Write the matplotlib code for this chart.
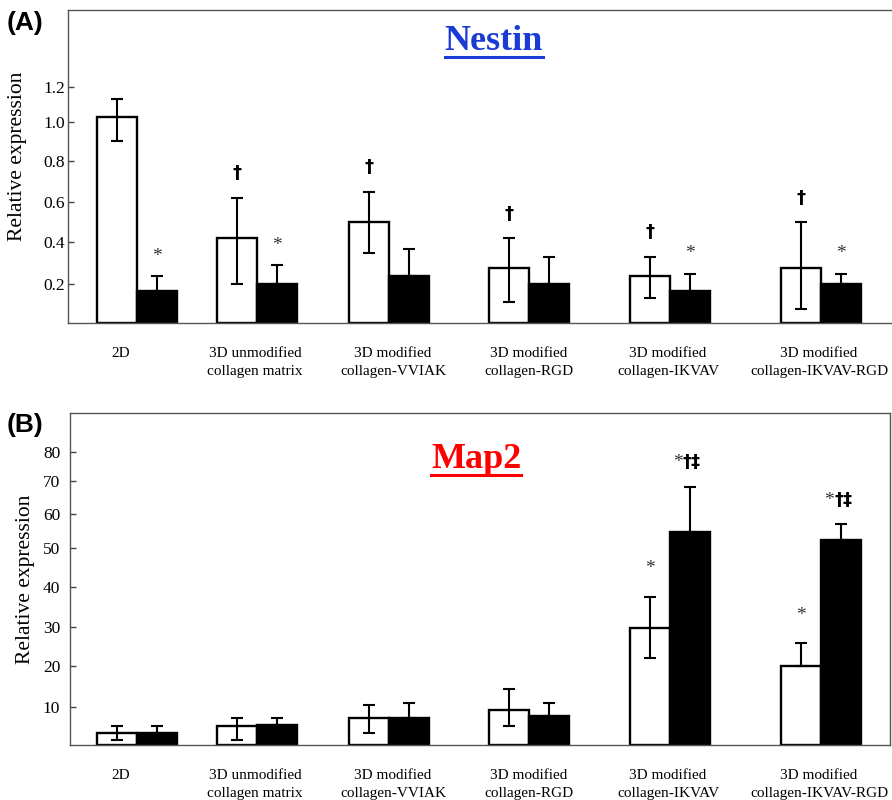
"""
Nestin / Map2 relative expression, two panels (A) and (B)
"""
import numpy as np
import matplotlib
matplotlib.use('Agg')
from matplotlib import pyplot as plt
from matplotlib.lines import Line2D

plt.rcParams['font.family'] = ['Liberation Serif', 'DejaVu Serif']

# Kategorie
labels = ['2D', '3D unmodified\ncollagen matrix', '3D modified\ncollagen-VVIAK',
          '3D modified\ncollagen-RGD', '3D modified\ncollagen-IKVAV',
          '3D modified\ncollagen-IKVAV-RGD']

# (A) Nestin
nes_white = [1.03, 0.42, 0.50, 0.275, 0.238, 0.275]
nes_white_hi = [0.10, 0.20, 0.15, 0.145, 0.092, 0.225]
nes_white_lo = [0.125, 0.22, 0.15, 0.167, 0.11, 0.203]
nes_black = [0.166, 0.20, 0.24, 0.20, 0.166, 0.20]
nes_black_hi = [0.072, 0.09, 0.125, 0.13, 0.084, 0.05]
nes_white_sig = ['', '†', '†', '†', '†', '†']
nes_black_sig = ['*', '*', '', '', '*', '*']

# (B) Map2
map_white = [3.2, 5.0, 7.0, 9.2, 29.7, 20.0]
map_white_hi = [1.8, 2.1, 3.5, 5.2, 7.9, 5.8]
map_white_lo = [1.9, 3.7, 3.8, 4.2, 7.7, 0.0]
map_black = [3.2, 5.2, 7.2, 7.6, 54.6, 52.4]
map_black_hi = [1.8, 1.9, 3.8, 3.4, 13.7, 4.6]
map_white_sig = ['', '', '', '', '*', '*']
map_black_sig = ['', '', '', '', '*†‡', '*†‡']

# osy v originale nejsou uplne linearni -> pozice ticku (px nad nulou)
a_ticks = [0.2, 0.4, 0.6, 0.8, 1.0, 1.2]
a_knot_v = [-1.0, 0, 0.2, 0.4, 0.6, 0.8, 1.0, 1.2, 2.0]
a_knot_h = [-200, 0, 39, 81, 121, 162, 201, 236.3, 377.5]
b_ticks = [10, 20, 30, 40, 50, 60, 70, 80]
b_knot_v = [-10, 0, 10, 20, 30, 40, 50, 60, 70, 80, 100]
b_knot_h = [-38, 0, 38, 79, 118, 158, 197, 231, 264, 293, 351]

# pozice skupin (px od leveho okraje obrazku)
group_x = [137, 256.5, 389, 528.5, 669.5, 821]
label_x = [121, 255, 393, 529, 668, 819]
bw = 40


def star_dagger(ax, x, y, s, star_off):
    if not s:
        return
    stars = s.count('*')
    rest = s.replace('*', '')
    if rest == '':
        ax.annotate('*', (x, y), xytext=(0, star_off), textcoords='offset points',
                    ha='center', va='baseline', fontsize=14, color='#333333')
    elif stars == 0:
        ax.annotate(rest, (x, y), xytext=(0, 14), textcoords='offset points',
                    ha='center', va='baseline', fontsize=13,
                    family='DejaVu Sans', fontweight='bold')
    else:
        ax.annotate('*', (x, y), xytext=(-5, 14), textcoords='offset points',
                    ha='right', va='baseline', fontsize=14, color='#333333')
        ax.annotate(rest, (x, y), xytext=(-5, 14), textcoords='offset points',
                    ha='left', va='baseline', fontsize=13,
                    family='DejaVu Sans', fontweight='bold')


def panel(ax, white, w_hi, w_lo, black, b_hi, w_sig, b_sig,
          kv, kh, ticks, ytop, xl, xr, right_spine, ypad, star_off):
    fwd = lambda v: np.interp(v, kv, kh)
    inv = lambda h: np.interp(h, kh, kv)
    ax.set_yscale('function', functions=(fwd, inv))
    gx = np.array(group_x)
    ax.bar(gx - bw / 2, white, bw, color='white', edgecolor='black', linewidth=1.7, zorder=2)
    ax.bar(gx + bw / 2, black, bw, color='black', edgecolor='black', linewidth=1.7, zorder=2)
    ax.errorbar(gx - bw / 2, white, yerr=[w_lo, w_hi], fmt='none', ecolor='black',
                elinewidth=1.5, capsize=4, capthick=1.5, zorder=3)
    ax.errorbar(gx + bw / 2, black, yerr=[np.zeros(len(black)), b_hi], fmt='none',
                ecolor='black', elinewidth=1.5, capsize=4, capthick=1.5, zorder=3)
    for i in range(len(gx)):
        star_dagger(ax, gx[i] - bw / 2, white[i] + w_hi[i], w_sig[i], star_off[0])
        star_dagger(ax, gx[i] + bw / 2, black[i] + b_hi[i], b_sig[i], star_off[1])
    ax.set_xlim(xl, xr)
    ax.set_ylim(0, ytop)
    ax.set_yticks(ticks)
    ax.set_yticklabels([str(t) for t in ticks])
    ax.yaxis.set_minor_locator(matplotlib.ticker.NullLocator())
    ax.set_xticks(label_x)
    ax.set_xticklabels(labels, fontsize=11, linespacing=1.5)
    ax.tick_params(axis='x', length=0, pad=17)
    ax.tick_params(axis='y', direction='in', length=4, width=1, pad=ypad,
                   labelsize=12.5, color='#444444')
    for s in ['left', 'top', 'bottom', 'right']:
        ax.spines[s].set_color('#555555')
        ax.spines[s].set_linewidth(1.0)
    ax.spines['right'].set_visible(right_spine)
    ax.set_ylabel('Relative expression', fontsize=15.5)


def underlined(fig, x, y, s, color):
    t = fig.text(x, y, s, color=color, fontsize=26, fontweight='bold',
                 ha='center', va='baseline')
    fig.canvas.draw()
    bb = t.get_window_extent().transformed(fig.transFigure.inverted())
    uy = y - 7 / 800
    fig.add_artist(Line2D([bb.x0, bb.x1], [uy, uy], color=color, linewidth=2.2,
                          transform=fig.transFigure))


fig = plt.figure(figsize=(8.92, 8.0), dpi=100)
ax1 = fig.add_axes([68 / 892, 1 - 323 / 800, 826 / 892, 313 / 800])
ax2 = fig.add_axes([70 / 892, 1 - 745 / 800, 820 / 892, 332 / 800])

panel(ax1, nes_white, nes_white_hi, nes_white_lo, nes_black, nes_black_hi,
      nes_white_sig, nes_black_sig, a_knot_v, a_knot_h, a_ticks, 1.635, 68, 894,
      False, 2, (11, 11))
panel(ax2, map_white, map_white_hi, map_white_lo, map_black, map_black_hi,
      map_white_sig, map_black_sig, b_knot_v, b_knot_h, b_ticks, 93.4, 70, 890,
      True, 7, (17, 15))

ax1.yaxis.set_label_coords(-0.05, 0.533)
ax2.yaxis.set_label_coords(-0.043, 0.5)

underlined(fig, 494 / 892, 1 - 50 / 800, 'Nestin', '#1a3cd4')
underlined(fig, 476 / 892, 1 - 468 / 800, 'Map2', '#ff0000')

fig.text(7 / 892, 1 - 23 / 800, '(A)', family='Liberation Sans', fontweight='bold',
         fontsize=19, ha='left', va='center')
fig.text(7 / 892, 1 - 425 / 800, '(B)', family='Liberation Sans', fontweight='bold',
         fontsize=19, ha='left', va='center')

plt.savefig('out.png', dpi=100)
